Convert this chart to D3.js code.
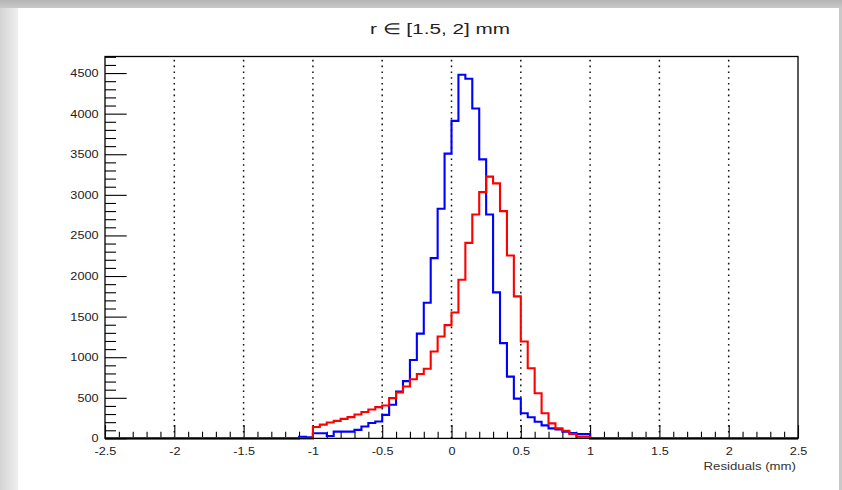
<!DOCTYPE html>
<html>
<head>
<meta charset="utf-8">
<script src="https://cdn.jsdelivr.net/npm/d3@7"></script>
<style>
  body { margin: 0; background: #ffffff; }
  text { font-family: "Liberation Sans", Arial, sans-serif; fill: #222; }
</style>
</head>
<body>
<div id="graph"></div>
<script>

// 100 bins of 0.05 between -2.5 and 2.5
const binLow = -2.5;
const binWidth = 0.05;

const blueCounts = [
  0, 0, 0, 0, 0, 0, 0, 0, 0, 0,
  0, 0, 0, 0, 0, 0, 0, 0, 0, 0,
  0, 0, 0, 0, 0, 0, 0, 0, 20, 15,
  64, 64, 30, 84, 84, 84, 105, 146, 190, 208,
  290, 414, 578, 705, 965, 1290, 1670, 2220, 2829, 3508,
  3911, 4480, 4430, 4064, 3437, 2758, 1799, 1173, 761, 490,
  309, 260, 205, 160, 123, 110, 82, 66, 53, 53,
  0, 0, 0, 0, 0, 0, 0, 0, 0, 0,
  0, 0, 0, 0, 0, 0, 0, 0, 0, 0,
  0, 0, 0, 0, 0, 0, 0, 0, 0, 0
];

const redCounts = [
  0, 0, 0, 0, 0, 0, 0, 0, 0, 0,
  0, 0, 0, 0, 0, 0, 0, 0, 0, 0,
  0, 0, 0, 0, 0, 0, 0, 0, 0, 0,
  140, 170, 195, 216, 240, 262, 295, 325, 356, 385,
  405, 496, 565, 640, 728, 794, 858, 1071, 1256, 1395,
  1550, 1955, 2408, 2758, 3034, 3224, 3141, 2799, 2252, 1749,
  1193, 864, 556, 309, 185, 123, 95, 55, 20, 20,
  0, 0, 0, 0, 0, 0, 0, 0, 0, 0,
  0, 0, 0, 0, 0, 0, 0, 0, 0, 0,
  0, 0, 0, 0, 0, 0, 0, 0, 0, 0
];

const xTickValues = [-2.5, -2, -1.5, -1, -0.5, 0, 0.5, 1, 1.5, 2, 2.5];
const xTickLabels = ["-2.5", "-2", "-1.5", "-1", "-0.5", "0", "0.5", "1", "1.5", "2", "2.5"];
const yTickValues = [0, 500, 1000, 1500, 2000, 2500, 3000, 3500, 4000, 4500];
const yTickLabels = ["0", "500", "1000", "1500", "2000", "2500", "3000", "3500", "4000", "4500"];
const xGridValues = [-2, -1.5, -1, -0.5, 0, 0.5, 1, 1.5, 2];

const titleText = "r \u2208 [1.5, 2] mm";
const xTitle = "Residuals (mm)";

const w = 842;
const h = 490;
const padLeft = 105, padRight = 798, padTop = 56.5, padBottom = 438.4;
const yMax = 4704;

const svg = d3.select("div#graph")
              .append("svg")
              .attr("width", w)
              .attr("height", h);

// grey page border round the white canvas
const defs = svg.append("defs");
const gLeft = defs.append("linearGradient").attr("id", "gl");
gLeft.append("stop").attr("offset", 0).attr("stop-color", "#d4d4d4");
gLeft.append("stop").attr("offset", 1).attr("stop-color", "#efefef");
const gTop = defs.append("linearGradient").attr("id", "gt").attr("x2", 0).attr("y2", 1);
gTop.append("stop").attr("offset", 0).attr("stop-color", "#b4b4b4");
gTop.append("stop").attr("offset", 1).attr("stop-color", "#c8c8c8");

svg.append("rect").attr("width", w).attr("height", h).attr("fill", "#e4e4e4");
svg.append("rect").attr("x", 0).attr("y", 0).attr("width", 18).attr("height", h).attr("fill", "url(#gl)");
svg.append("rect").attr("x", 0).attr("y", 0).attr("width", w).attr("height", 8).attr("fill", "url(#gt)");
svg.append("rect").attr("x", 839).attr("y", 8).attr("width", 3).attr("height", h).attr("fill", "#c9c9c9");
svg.append("rect").attr("x", 18).attr("y", 8).attr("width", 821).attr("height", h - 8).attr("fill", "#ffffff");

const x = d3.scaleLinear().domain([-2.5, 2.5]).range([padLeft, padRight]);
const y = d3.scaleLinear().domain([0, yMax]).range([padBottom, padTop]);

// dotted grid at the major x ticks
svg.selectAll("line.grid")
   .data(xGridValues)
   .enter()
   .append("line")
   .attr("class", "grid")
   .attr("x1", d => x(d)).attr("x2", d => x(d))
   .attr("y1", padBottom).attr("y2", padTop)
   .attr("stroke", "#111")
   .attr("stroke-width", 1.5)
   .attr("stroke-dasharray", "1.6,4.2");

// minor ticks
const xMinor = d3.range(-2.5, 2.5001, 0.1).filter(v => Math.abs(v * 2 - Math.round(v * 2)) > 1e-6);
const yMinor = d3.range(0, yMax, 100).filter(v => v % 500 !== 0);

svg.append("g")
   .attr("transform", "translate(0," + padBottom + ")")
   .call(d3.axisBottom(x).tickValues(xMinor).tickSize(-6.7).tickFormat(""));
svg.append("g")
   .attr("transform", "translate(" + padLeft + ",0)")
   .call(d3.axisLeft(y).tickValues(yMinor).tickSize(-11).tickFormat(""));

// major ticks with labels
svg.append("g")
   .attr("class", "ax")
   .attr("transform", "translate(0," + padBottom + ")")
   .call(d3.axisBottom(x).tickValues(xTickValues).tickSize(-13.3).tickPadding(8.6)
           .tickFormat((d, i) => xTickLabels[i]));
svg.append("g")
   .attr("class", "ax")
   .attr("transform", "translate(" + padLeft + ",0)")
   .call(d3.axisLeft(y).tickValues(yTickValues).tickSize(-21.7).tickPadding(6.5)
           .tickFormat((d, i) => yTickLabels[i]));

svg.selectAll(".domain").remove();
svg.selectAll(".tick line").attr("stroke", "#000").attr("stroke-width", 1.1);
svg.selectAll(".ax text")
   .attr("font-family", "Liberation Sans, Arial, sans-serif")
   .attr("font-size", 11)
   .attr("fill", "#333");

// histograms
const line = d3.line()
   .x(d => x(d[0]))
   .y(d => y(d[1]))
   .curve(d3.curveStepAfter);

function histPoints(counts) {
  const pts = counts.map((c, i) => [binLow + i * binWidth, c]);
  pts.push([binLow + counts.length * binWidth, counts[counts.length - 1]]);
  return pts;
}

svg.append("path")
   .attr("d", line(histPoints(blueCounts)))
   .attr("fill", "none")
   .attr("stroke", "#0000ff")
   .attr("stroke-width", 2.1);

svg.append("path")
   .attr("d", line(histPoints(redCounts)))
   .attr("fill", "none")
   .attr("stroke", "#ff0000")
   .attr("stroke-width", 2.1);

// frame
svg.append("rect")
   .attr("x", padLeft).attr("y", padTop)
   .attr("width", padRight - padLeft).attr("height", padBottom - padTop)
   .attr("fill", "none")
   .attr("stroke", "#000")
   .attr("stroke-width", 1.3);

// titles
svg.append("text")
   .attr("class", "title")
   .attr("x", 440).attr("y", 34)
   .attr("text-anchor", "middle")
   .style("font-size", "15px")
   .text(titleText);

svg.append("text")
   .attr("class", "xtitle")
   .attr("x", padRight - 2).attr("y", 470)
   .attr("text-anchor", "end")
   .style("font-size", "11px")
   .style("fill", "#333")
   .text(xTitle);

// the original canvas text is drawn a little wider than the font's natural width
function stretch(sel, k) {
  sel.each(function() {
    const len = this.getComputedTextLength();
    d3.select(this).attr("textLength", len * k).attr("lengthAdjust", "spacingAndGlyphs");
  });
}
stretch(svg.selectAll(".ax text"), 1.15);
stretch(svg.selectAll("text.xtitle"), 1.2);
svg.select("text.title").attr("textLength", 140).attr("lengthAdjust", "spacingAndGlyphs");

</script>
</body>
</html>
